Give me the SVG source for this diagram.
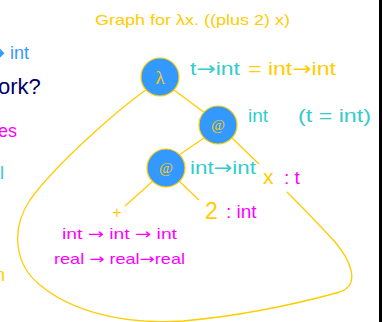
<svg xmlns="http://www.w3.org/2000/svg" width="383" height="322" viewBox="0 0 383 322">
<style>
text{font-family:"Liberation Sans",Arial,sans-serif}
.a{font-family:"DejaVu Sans",sans-serif}
.y{fill:#FFCC00}.c{fill:#33CCCC}.m{fill:#FF00FF}.b{fill:#3399FF}.n{fill:#000066}
.node{fill:#3399FF;stroke:#FFCC00;stroke-width:1.2}
.lbl{font-family:"Liberation Serif","Times New Roman",serif;fill:#FFCC00;text-anchor:middle}
.e{stroke:#FFCC00;stroke-width:1.3;fill:none}
</style>
<rect width="383" height="322" fill="#fff"/>
<line x1="380.5" y1="0" x2="380.5" y2="322" stroke="#000" stroke-width="3"/>
<text x="95" y="25" class="y" font-size="14.5" textLength="195" lengthAdjust="spacingAndGlyphs">Graph for λx. ((plus 2) x)</text>
<text x="-10" y="59" class="b" font-size="18"><tspan class="a">➔</tspan> int</text>
<text x="-2" y="94" class="n" font-size="22">ork?</text>
<text x="-2" y="137" class="m" font-size="18">es</text>
<text x="-10" y="179" class="c" font-size="18">al</text>
<text x="-5" y="281" class="y" font-size="18">n</text>
<g id="connectors">
<line class="e" x1="174" y1="90" x2="205" y2="113"/>
<line class="e" x1="204" y1="138" x2="179" y2="155"/>
<line class="e" x1="232" y1="138" x2="259" y2="164"/>
<line class="e" x1="153" y1="181" x2="125" y2="206"/>
<line class="e" x1="179" y1="181" x2="199" y2="200"/>
<path class="e" d="M147,89 C115,112 55,165 30,200 C10,230 15,265 40,285 C70,310 120,325 183,321 C240,316 300,303 340,292 C360,285 352,262 335,242 C315,220 300,205 287,192"/>
</g>
<g id="lambda">
<circle class="node" cx="160" cy="77" r="19"/>
<text class="lbl" x="160" y="84" font-size="19">λ</text>
</g>
<g id="app1">
<circle class="node" cx="218" cy="125" r="19"/>
<text class="lbl" x="218" y="130" font-size="15" font-style="italic">@</text>
</g>
<g id="app2">
<circle class="node" cx="166" cy="168" r="19"/>
<text class="lbl" x="166" y="173" font-size="15" font-style="italic">@</text>
</g>
<g id="labels">
<text x="190" y="75" class="c" font-size="19" textLength="50" lengthAdjust="spacingAndGlyphs">t<tspan class="a">→</tspan>int</text>
<text x="248" y="75" class="y" font-size="19" textLength="88" lengthAdjust="spacingAndGlyphs">= int<tspan class="a">→</tspan>int</text>
<text x="248" y="122" class="c" font-size="19">int</text>
<text x="298" y="122" class="c" font-size="19" textLength="73" lengthAdjust="spacingAndGlyphs">(t = int)</text>
<text x="190" y="174" class="c" font-size="19" textLength="66" lengthAdjust="spacingAndGlyphs">int<tspan class="a">→</tspan>int</text>
<text x="263" y="184" class="y" font-size="21">x</text>
<text x="284" y="184" class="m" font-size="19">: t</text>
<text x="117" y="218" class="y" font-size="16" text-anchor="middle">+</text>
<text x="205" y="219" class="y" font-size="23">2</text>
<text x="226" y="218" class="m" font-size="19">: int</text>
<text x="62" y="239" class="m" font-size="15" textLength="115" lengthAdjust="spacingAndGlyphs">int <tspan class="a">→</tspan> int <tspan class="a">→</tspan> int</text>
<text x="54" y="264" class="m" font-size="15" textLength="131" lengthAdjust="spacingAndGlyphs">real <tspan class="a">→</tspan> real<tspan class="a">→</tspan>real</text>
</g>
</svg>
